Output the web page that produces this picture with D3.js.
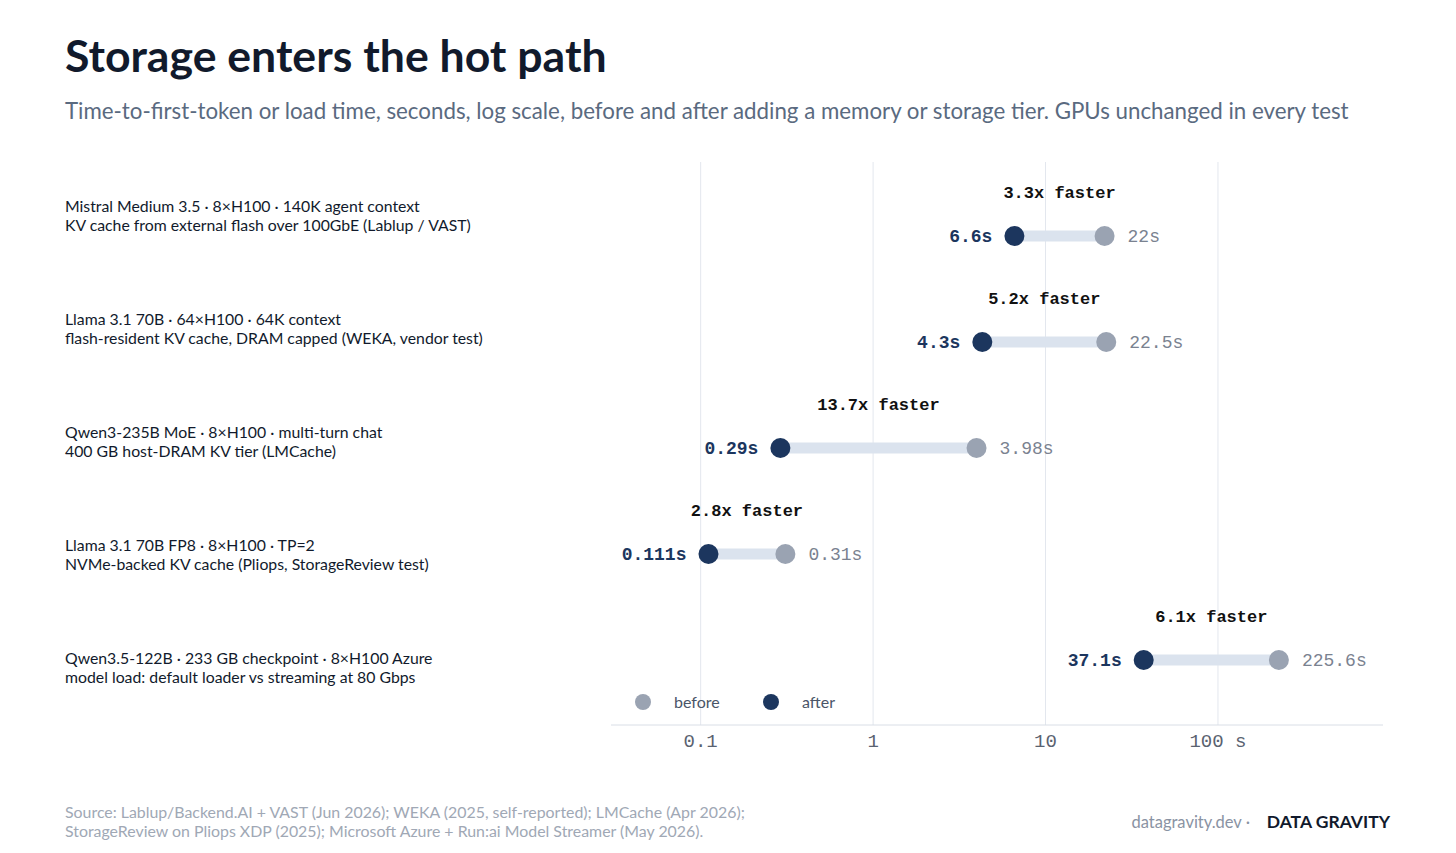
<!DOCTYPE html>
<html><head><meta charset="utf-8">
<script src="https://cdn.jsdelivr.net/npm/d3@7"></script>
<style>body{margin:0;background:#fff}svg{display:block}</style>
</head><body>
<svg id="c" width="1456" height="853"></svg>
<script>
const labels1 = [
 "Mistral Medium 3.5 · 8×H100 · 140K agent context",
 "Llama 3.1 70B · 64×H100 · 64K context",
 "Qwen3-235B MoE · 8×H100 · multi-turn chat",
 "Llama 3.1 70B FP8 · 8×H100 · TP=2",
 "Qwen3.5-122B · 233 GB checkpoint · 8×H100 Azure"];
const labels2 = [
 "KV cache from external flash over 100GbE (Lablup / VAST)",
 "flash-resident KV cache, DRAM capped (WEKA, vendor test)",
 "400 GB host-DRAM KV tier (LMCache)",
 "NVMe-backed KV cache (Pliops, StorageReview test)",
 "model load: default loader vs streaming at 80 Gbps"];
const before = [22, 22.5, 3.98, 0.31, 225.6];
const after = [6.6, 4.3, 0.29, 0.111, 37.1];
const beforeTxt = ["22s","22.5s","3.98s","0.31s","225.6s"];
const afterTxt = ["6.6s","4.3s","0.29s","0.111s","37.1s"];
const speedup = ["3.3x faster","5.2x faster","13.7x faster","2.8x faster","6.1x faster"];
const ticks = [0.1, 1, 10, 100];
const tickLabels = ["0.1","1","10","100 s"];

const svg = d3.select("#c");
const x = d3.scaleLog().domain([0.0302, 906]).range([611, 1383]);
const y = d3.scalePoint().domain(d3.range(5)).range([236, 660]);
const yl = d3.scalePoint().domain(d3.range(5)).range([207, 659]);
const mono = "'Liberation Mono', 'DejaVu Sans Mono', monospace";
const lato = "Lato, sans-serif";

svg.append("text").attr("x",65).attr("y",72).text("Storage enters the hot path")
 .attr("font-family",lato).attr("font-weight",700).attr("font-size",44.6).attr("fill","#111a2c");
svg.append("text").attr("x",65).attr("y",119).text("Time-to-first-token or load time, seconds, log scale, before and after adding a memory or storage tier. GPUs unchanged in every test")
 .attr("font-family",lato).attr("font-size",22.3).attr("fill","#5a6a80");

svg.selectAll(".g").data(ticks).join("line").attr("x1",d=>x(d)).attr("x2",d=>x(d))
 .attr("y1",162).attr("y2",725).attr("stroke","#e3e7ee").attr("stroke-width",1);
svg.append("line").attr("x1",611).attr("x2",1383).attr("y1",725).attr("y2",725).attr("stroke","#d9dee6");
svg.selectAll(".t").data(ticks).join("text").attr("x",d=>x(d)).attr("y",747).attr("text-anchor","middle")
 .text((d,i)=>tickLabels[i]).attr("font-family",mono).attr("font-size",19).attr("fill","#5a6270");

const rows = svg.selectAll(".r").data(d3.range(5)).join("g");
rows.append("text").attr("x",65).attr("y",i=>yl(i)+5).text(i=>labels1[i])
 .attr("font-family",lato).attr("font-size",15.8).attr("fill","#111a2c");
rows.append("text").attr("x",65).attr("y",i=>yl(i)+24).text(i=>labels2[i])
 .attr("font-family",lato).attr("font-size",15.8).attr("fill","#111a2c");
rows.append("line").attr("x1",i=>x(after[i])).attr("x2",i=>x(before[i])).attr("y1",i=>y(i)).attr("y2",i=>y(i))
 .attr("stroke","#dbe3ee").attr("stroke-width",11);
rows.append("circle").attr("cx",i=>x(before[i])).attr("cy",i=>y(i)).attr("r",10).attr("fill","#9aa3b2");
rows.append("circle").attr("cx",i=>x(after[i])).attr("cy",i=>y(i)).attr("r",10).attr("fill","#1c365e");
rows.append("text").attr("x",i=>x(after[i])-22).attr("y",i=>y(i)+6).attr("text-anchor","end").text(i=>afterTxt[i])
 .attr("font-family",mono).attr("font-weight",700).attr("font-size",18).attr("fill","#1c365e");
rows.append("text").attr("x",i=>x(before[i])+23).attr("y",i=>y(i)+6).text(i=>beforeTxt[i])
 .attr("font-family",mono).attr("font-size",18).attr("fill","#7a8290");
rows.append("text").attr("x",i=>(x(after[i])+x(before[i]))/2).attr("y",i=>y(i)-38)
 .attr("text-anchor","middle").text(i=>speedup[i])
 .attr("font-family",mono).attr("font-weight",700).attr("font-size",17).attr("fill","#111");

svg.append("circle").attr("cx",643).attr("cy",702).attr("r",8).attr("fill","#9aa3b2");
svg.append("text").attr("x",674).attr("y",708).text("before").attr("font-family",lato).attr("font-size",16).attr("fill","#4a5568");
svg.append("circle").attr("cx",771).attr("cy",702).attr("r",8).attr("fill","#1c365e");
svg.append("text").attr("x",802).attr("y",708).text("after").attr("font-family",lato).attr("font-size",16).attr("fill","#4a5568");

svg.append("text").attr("x",65).attr("y",818).text("Source: Lablup/Backend.AI + VAST (Jun 2026); WEKA (2025, self-reported); LMCache (Apr 2026);")
 .attr("font-family",lato).attr("font-size",15.9).attr("fill","#a0a8b5");
svg.append("text").attr("x",65).attr("y",837).text("StorageReview on Pliops XDP (2025); Microsoft Azure + Run:ai Model Streamer (May 2026).")
 .attr("font-family",lato).attr("font-size",15.9).attr("fill","#a0a8b5");
svg.append("text").attr("x",1390).attr("y",828).attr("text-anchor","end").attr("font-family",lato)
 .text("DATA GRAVITY").attr("font-size",17.5).attr("font-weight",700).attr("fill","#111a2c");
svg.append("text").attr("x",1250).attr("y",828).attr("text-anchor","end").attr("font-family",lato)
 .text("datagravity.dev ·").attr("font-size",16.5).attr("fill","#8a93a3");
</script>
</body></html>
